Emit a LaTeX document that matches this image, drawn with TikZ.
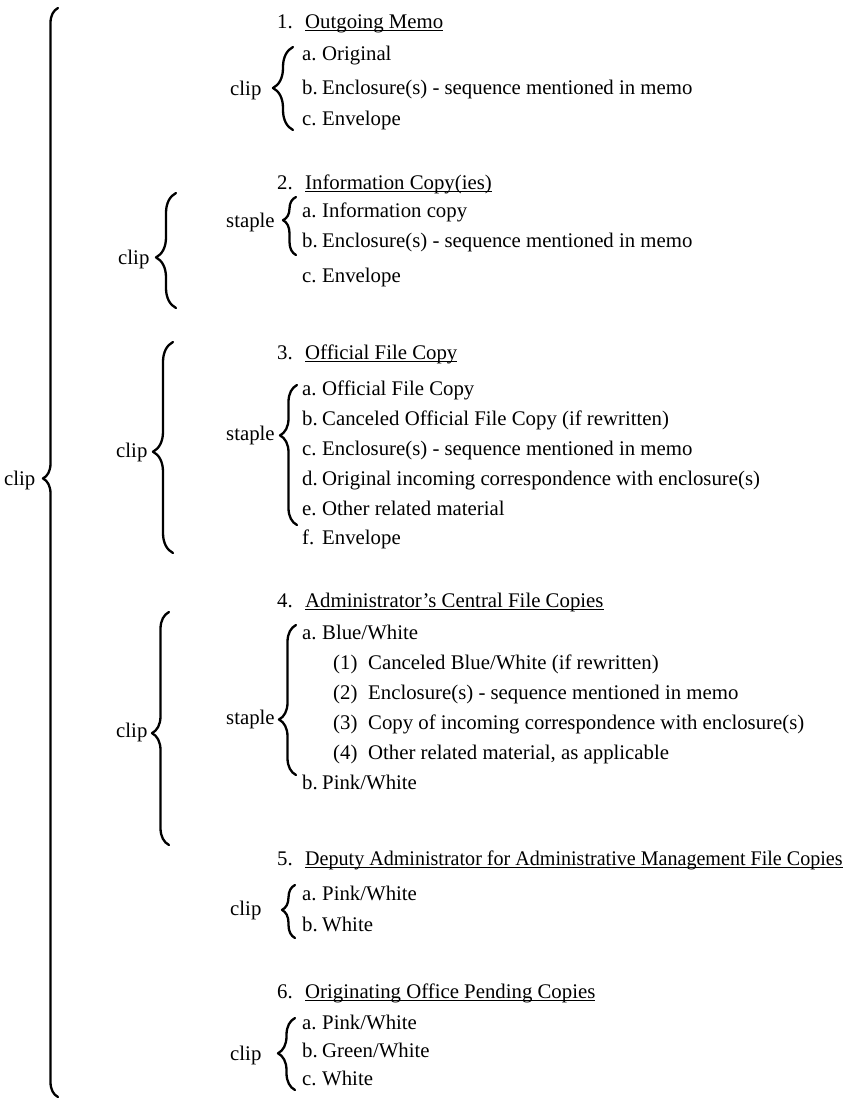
\documentclass[tikz,border=0pt]{standalone}
\usepackage{fontspec}
\setmainfont{Liberation Serif}
\usetikzlibrary{decorations.pathreplacing}
\newcommand\hdul[1]{\setbox0\hbox{#1}\rlap{\rule[-3.2pt]{\wd0}{1.6pt}}\box0}
\newcommand\lbl[2]{\makebox[#1pt][l]{#2}}
\tikzset{
  txt/.style={anchor=base west, inner sep=0pt, font=\fontsize{20.8}{25}\selectfont},
  brc/.style args={#1/#2}{decorate, decoration={brace, amplitude=#1pt, aspect=#2},
    line width=2.3pt, line cap=round, line join=round}
}
\begin{document}
\begin{tikzpicture}[x=1pt,y=-1pt]
\useasboundingbox (0,0) rectangle (856,1101);
% ---------- outer ----------
\draw[brc=15/0.568] (58,1097) -- (58,8);
\node[txt] (outer) at (4,485) {clip};
% ---------- group 1 ----------
\node[txt] (h1) at (277,28) {\lbl{28}{1.}\hdul{Outgoing Memo}};
\node[txt] (g1a) at (302,60) {\lbl{20}{a.}Original};
\node[txt] (g1b) at (302,94) {\lbl{20}{b.}Enclosure(s) - sequence mentioned in memo};
\node[txt] (g1c) at (302,125) {\lbl{20}{c.}Envelope};
\node[txt] (g1clip) at (230,95) {clip};
\draw[brc=20/0.506] (293,130) -- (293,47);
% ---------- group 2 ----------
\node[txt] (h2) at (277,189) {\lbl{28}{2.}\hdul{Information Copy(ies)}};
\node[txt] (g2a) at (302,217) {\lbl{20}{a.}Information copy};
\node[txt] (g2b) at (302,247) {\lbl{20}{b.}Enclosure(s) - sequence mentioned in memo};
\node[txt] (g2c) at (302,282) {\lbl{20}{c.}Envelope};
\node[txt] (g2st) at (226,227) {staple};
\draw[brc=13/0.6] (296,255) -- (296,197);
\node[txt] (g2clip) at (118,264) {clip};
\draw[brc=20/0.44] (176,308) -- (176,193);
% ---------- group 3 ----------
\node[txt] (h3) at (277,359) {\lbl{28}{3.}\hdul{Official File Copy}};
\node[txt] (g3a) at (302,395) {\lbl{20}{a.}Official File Copy};
\node[txt] (g3b) at (302,425) {\lbl{20}{b.}Canceled Official File Copy (if rewritten)};
\node[txt] (g3c) at (302,455) {\lbl{20}{c.}Enclosure(s) - sequence mentioned in memo};
\node[txt] (g3d) at (302,485) {\lbl{20}{d.}Original incoming correspondence with enclosure(s)};
\node[txt] (g3e) at (302,515) {\lbl{20}{e.}Other related material};
\node[txt] (g3f) at (302,544) {\lbl{20}{f.}Envelope};
\node[txt] (g3st) at (226,440) {staple};
\draw[brc=17/0.64] (297,525) -- (297,385);
\node[txt] (g3clip) at (116,457) {clip};
\draw[brc=20/0.48] (173,553) -- (173,342);
% ---------- group 4 ----------
\node[txt] (h4) at (277,607) {\lbl{28}{4.}\hdul{Administrator’s Central File Copies}};
\node[txt] (g4a) at (302,639) {\lbl{20}{a.}Blue/White};
\node[txt] (g4a1) at (333,669) {\lbl{35}{(1)}Canceled Blue/White (if rewritten)};
\node[txt] (g4a2) at (333,699) {\lbl{35}{(2)}Enclosure(s) - sequence mentioned in memo};
\node[txt] (g4a3) at (333,729) {\lbl{35}{(3)}Copy of incoming correspondence with enclosure(s)};
\node[txt] (g4a4) at (333,759) {\lbl{35}{(4)}Other related material, as applicable};
\node[txt] (g4b) at (302,789) {\lbl{20}{b.}Pink/White};
\node[txt] (g4st) at (226,724) {staple};
\draw[brc=17/0.37] (296,775) -- (296,625);
\node[txt] (g4clip) at (116,737) {clip};
\draw[brc=17/0.48] (169,845) -- (169,612);
% ---------- group 5 ----------
\node[txt] (h5) at (277,865) {\lbl{28}{5.}\hdul{\scalebox{0.965}[1]{Deputy Administrator for Administrative Management File Copies}}};
\node[txt] (g5a) at (302,900) {\lbl{20}{a.}Pink/White};
\node[txt] (g5b) at (302,931) {\lbl{20}{b.}White};
\node[txt] (g5clip) at (230,915) {clip};
\draw[brc=13/0.53] (295,938) -- (295,885);
% ---------- group 6 ----------
\node[txt] (h6) at (277,998) {\lbl{28}{6.}\hdul{Originating Office Pending Copies}};
\node[txt] (g6a) at (302,1029) {\lbl{20}{a.}Pink/White};
\node[txt] (g6b) at (302,1057) {\lbl{20}{b.}Green/White};
\node[txt] (g6c) at (302,1085) {\lbl{20}{c.}White};
\node[txt] (g6clip) at (230,1060) {clip};
\draw[brc=17/0.51] (295,1090) -- (295,1018);
\end{tikzpicture}
\end{document}
